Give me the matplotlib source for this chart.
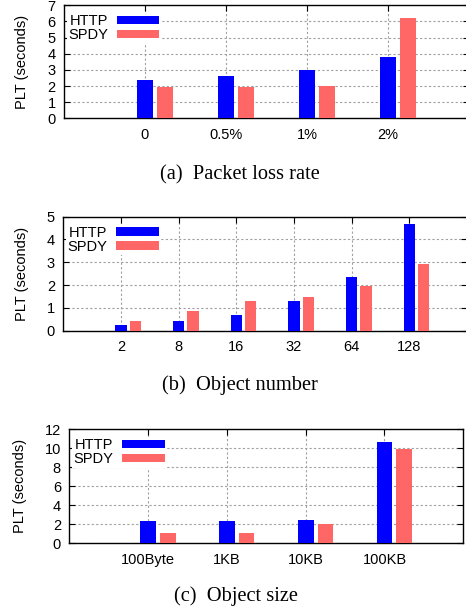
import numpy as np
import matplotlib
matplotlib.use('Agg')
import matplotlib.pyplot as plt

# (a) packet loss rate
loss_labels = ['0', '0.5%', '1%', '2%']
loss_http = [2.36, 2.63, 2.98, 3.79]
loss_spdy = [1.96, 1.96, 2.0, 6.23]

# (b) object number
num_labels = ['2', '8', '16', '32', '64', '128']
num_http = [0.25, 0.41, 0.69, 1.30, 2.35, 4.66]
num_spdy = [0.42, 0.86, 1.29, 1.49, 1.97, 2.94]

# (c) object size
size_labels = ['100Byte', '1KB', '10KB', '100KB']
size_http = [2.39, 2.39, 2.49, 10.7]
size_spdy = [1.09, 1.09, 2.07, 9.96]

HTTP_COLOR = '#0000ff'
SPDY_COLOR = '#ff6666'

plt.rcParams.update({
    'font.family': ['Liberation Sans', 'DejaVu Sans'],
    'font.size': 10.5,
    'axes.linewidth': 1.0,
    'xtick.direction': 'in',
    'ytick.direction': 'in',
    'xtick.top': True,
    'ytick.right': True,
    'xtick.major.size': 4,
    'ytick.major.size': 4,
    'xtick.major.pad': 7,
    'ytick.major.pad': 6,
})


def draw_panel(fig, rect, labels, http, spdy, ymax, ystep, caption, cap_xy):
    ax = fig.add_axes(rect)
    x = np.arange(1, len(labels) + 1)
    ax.bar(x, http, width=0.2, color=HTTP_COLOR, label='HTTP', zorder=3)
    ax.bar(x + 0.25, spdy, width=0.2, color=SPDY_COLOR, label='SPDY', zorder=3)
    ax.set_xlim(0, len(labels) + 1)
    ax.set_ylim(0, ymax)
    ax.set_xticks(x)
    ax.set_xticklabels(labels)
    ax.set_yticks(np.arange(0, ymax + 0.01, ystep))
    ax.set_axisbelow(True)
    ax.grid(True, color='#a0a0a0', linestyle=(0, (2, 2)), linewidth=0.8)
    ax.set_ylabel('PLT (seconds)', labelpad=13)
    ax.legend(loc='upper left', bbox_to_anchor=(0.0, 0.96),
              markerfirst=False, frameon=True,
              facecolor='white', edgecolor='none', framealpha=1,
              handlelength=2.9, handleheight=0.55, handletextpad=0.6,
              labelspacing=0.0, borderpad=0.1, borderaxespad=0.2,
              fancybox=False)
    fig.text(cap_xy[0], cap_xy[1], caption, ha='center', va='center',
             family=['Liberation Serif', 'DejaVu Serif'], fontsize=14.7)
    return ax


fig = plt.figure(figsize=(4.66, 6.11), dpi=100)
fig.patch.set_facecolor('white')

draw_panel(fig, [0.1373, 0.8064, 0.8691, 0.1849], loss_labels, loss_http, loss_spdy,
           7, 1, '(a)  Packet loss rate', (240 / 466, 1 - 175 / 611))
draw_panel(fig, [0.1358, 0.4588, 0.8663, 0.1866], num_labels, num_http, num_spdy,
           5, 1, '(b)  Object number', (240 / 466, 1 - 385 / 611))
draw_panel(fig, [0.1487, 0.1108, 0.8455, 0.1866], size_labels, size_http, size_spdy,
           12, 2, '(c)  Object size', (236 / 466, 1 - 596 / 611))

fig.savefig('out.png', dpi=100)
